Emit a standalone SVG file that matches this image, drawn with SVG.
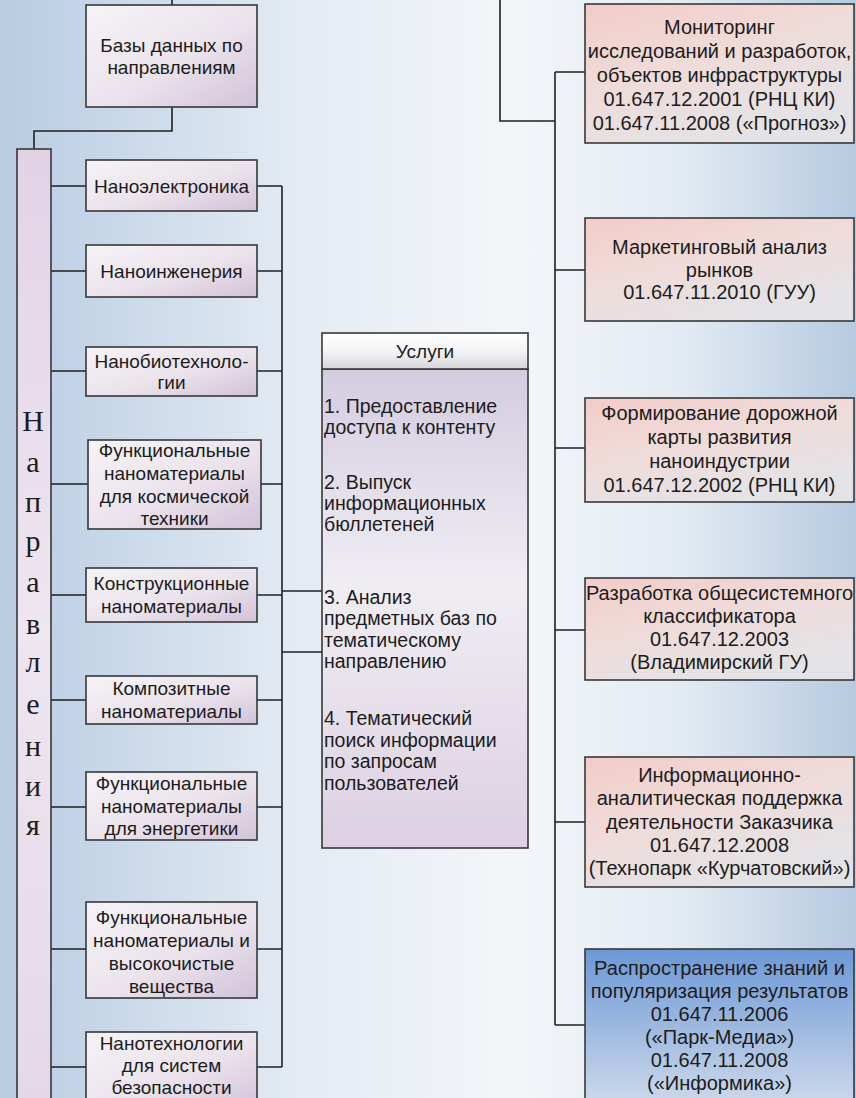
<svg xmlns="http://www.w3.org/2000/svg" width="856" height="1098" viewBox="0 0 856 1098">
<defs>
<linearGradient id="bg" x1="0" y1="0" x2="1" y2="0">
<stop offset="0" stop-color="#b8cce2"/>
<stop offset="0.35" stop-color="#e4ebf4"/>
<stop offset="0.6" stop-color="#f3f6f9"/>
<stop offset="0.8" stop-color="#e2eaf3"/>
<stop offset="1" stop-color="#b6cae0"/>
</linearGradient>
<linearGradient id="lav" x1="0" y1="0" x2="1" y2="1">
<stop offset="0" stop-color="#f6f3f6"/>
<stop offset="0.55" stop-color="#ebe3ec"/>
<stop offset="1" stop-color="#d2c2d8"/>
</linearGradient>
<linearGradient id="tall" x1="0" y1="0" x2="0" y2="1">
<stop offset="0" stop-color="#e2d2e6"/>
<stop offset="0.5" stop-color="#eee6f0"/>
<stop offset="1" stop-color="#e4d8e8"/>
</linearGradient>
<linearGradient id="pink" x1="0" y1="0" x2="0.6" y2="1">
<stop offset="0" stop-color="#f3ccc8"/>
<stop offset="0.5" stop-color="#efdcda"/>
<stop offset="1" stop-color="#e3e3e7"/>
</linearGradient>
<linearGradient id="blue" x1="0" y1="0" x2="0" y2="1">
<stop offset="0" stop-color="#6c98d6"/>
<stop offset="0.6" stop-color="#a9c0e2"/>
<stop offset="1" stop-color="#cfdbec"/>
</linearGradient>
<linearGradient id="hdr" x1="0" y1="0" x2="0" y2="1">
<stop offset="0" stop-color="#ffffff"/>
<stop offset="0.5" stop-color="#f4f4f6"/>
<stop offset="1" stop-color="#d6d6da"/>
</linearGradient>
<linearGradient id="svc" x1="0" y1="0" x2="0" y2="1">
<stop offset="0" stop-color="#d4cce0"/>
<stop offset="0.45" stop-color="#f0edf3"/>
<stop offset="1" stop-color="#dcd0e2"/>
</linearGradient>
</defs>
<style>
.box{stroke:#383838;stroke-width:1.6}
.l{fill:url(#lav)}
.p{fill:url(#pink)}
.t{font-family:"Liberation Sans",Arial,sans-serif;font-size:19px;fill:#1c1c1c;text-anchor:middle}
.r{font-family:"Liberation Sans",Arial,sans-serif;font-size:20px;fill:#1c1c1c;text-anchor:middle}
.s{font-family:"Liberation Sans",Arial,sans-serif;font-size:19.5px;fill:#1c1c1c}
.v{font-family:"Liberation Serif","Times New Roman",serif;font-size:30px;fill:#1c1c1c;text-anchor:middle}
.c{fill:none;stroke:#202020;stroke-width:1.6}
</style>
<rect x="0" y="0" width="856" height="1098" fill="url(#bg)"/>

<g id="connectors">
<path class="c" d="M172 0V5"/>
<path class="c" d="M172 107V131H34V149"/>
<path class="c" d="M500 0V121H555"/>
<path class="c" d="M555 72V1025"/>
<path class="c" d="M555 72H585M555 270H585M555 448H585M555 630H585M555 822H585M555 1025H585"/>
<path class="c" d="M51 186H86M51 271H86M51 371H86M51 484H88M51 595H86M51 700H86M51 807H86M51 949H86M51 1067H86"/>
<path class="c" d="M257 186H282M257 271H282M257 371H282M261 484H282M257 595H282M257 700H282M257 807H282M257 949H282M257 1067H282"/>
<path class="c" d="M282 186V1067"/>
<path class="c" d="M282 591H322M282 652H322"/>
</g>

<g id="bazy">
<rect class="box l" x="86" y="5" width="171" height="102"/>
<text class="t" x="171.5" y="52">Базы данных по</text>
<text class="t" x="171.5" y="74">направлениям</text>
</g>

<g id="napravleniya">
<rect class="box" x="17" y="149" width="34" height="960" fill="url(#tall)"/>
<text class="v" x="33" y="431">Н</text>
<text class="v" x="33" y="472">а</text>
<text class="v" x="33" y="512">п</text>
<text class="v" x="33" y="551">р</text>
<text class="v" x="33" y="592">а</text>
<text class="v" x="33" y="634">в</text>
<text class="v" x="33" y="672">л</text>
<text class="v" x="33" y="714">е</text>
<text class="v" x="33" y="756">н</text>
<text class="v" x="33" y="796">и</text>
<text class="v" x="33" y="835">я</text>
</g>

<g id="nanoelektronika">
<rect class="box l" x="86" y="160" width="171" height="51"/>
<text class="t" x="171.5" y="193">Наноэлектроника</text>
</g>

<g id="nanoinzheneriya">
<rect class="box l" x="86" y="245" width="171" height="52"/>
<text class="t" x="171.5" y="278">Наноинженерия</text>
</g>

<g id="nanobio">
<rect class="box l" x="86" y="347" width="171" height="49"/>
<text class="t" x="171.5" y="368">Нанобиотехноло-</text>
<text class="t" x="171.5" y="389">гии</text>
</g>

<g id="kosmos">
<rect class="box l" x="88" y="440" width="173" height="89"/>
<text class="t" x="174.5" y="457">Функциональные</text>
<text class="t" x="174.5" y="480">наноматериалы</text>
<text class="t" x="174.5" y="503">для космической</text>
<text class="t" x="174.5" y="525">техники</text>
</g>

<g id="konstr">
<rect class="box l" x="86" y="568" width="171" height="54"/>
<text class="t" x="171.5" y="590">Конструкционные</text>
<text class="t" x="171.5" y="613">наноматериалы</text>
</g>

<g id="kompozit">
<rect class="box l" x="86" y="676" width="171" height="48"/>
<text class="t" x="171.5" y="695">Композитные</text>
<text class="t" x="171.5" y="718">наноматериалы</text>
</g>

<g id="energetika">
<rect class="box l" x="86" y="772" width="171" height="68"/>
<text class="t" x="171.5" y="790">Функциональные</text>
<text class="t" x="171.5" y="813">наноматериалы</text>
<text class="t" x="171.5" y="835">для энергетики</text>
</g>

<g id="vysokochistye">
<rect class="box l" x="86" y="902" width="171" height="96"/>
<text class="t" x="171.5" y="924">Функциональные</text>
<text class="t" x="171.5" y="947">наноматериалы и</text>
<text class="t" x="171.5" y="970">высокочистые</text>
<text class="t" x="171.5" y="993">вещества</text>
</g>

<g id="bezopasnost">
<rect class="box l" x="86" y="1032" width="171" height="80"/>
<text class="t" x="171.5" y="1050">Нанотехнологии</text>
<text class="t" x="171.5" y="1072">для систем</text>
<text class="t" x="171.5" y="1094">безопасности</text>
</g>

<g id="uslugi">
<rect class="box" x="322" y="369" width="206" height="479" fill="url(#svc)"/>
<rect class="box" x="322" y="333" width="206" height="36" fill="url(#hdr)"/>
<text class="t" x="425" y="358">Услуги</text>
<text class="s" x="324" y="413">1. Предоставление</text>
<text class="s" x="324" y="434">доступа к контенту</text>
<text class="s" x="324" y="489">2. Выпуск</text>
<text class="s" x="324" y="510">информационных</text>
<text class="s" x="324" y="531">бюллетеней</text>
<text class="s" x="324" y="604">3. Анализ</text>
<text class="s" x="324" y="625">предметных баз по</text>
<text class="s" x="324" y="647">тематическому</text>
<text class="s" x="324" y="668">направлению</text>
<text class="s" x="324" y="725">4. Тематический</text>
<text class="s" x="324" y="747">поиск информации</text>
<text class="s" x="324" y="768">по запросам</text>
<text class="s" x="324" y="790">пользователей</text>
</g>

<g id="monitoring">
<rect class="box p" x="585" y="4" width="269" height="139"/>
<text class="r" x="719.5" y="34">Мониторинг</text>
<text class="r" x="719.5" y="58">исследований и разработок,</text>
<text class="r" x="719.5" y="82">объектов инфраструктуры</text>
<text class="r" x="719.5" y="106">01.647.12.2001 (РНЦ КИ)</text>
<text class="r" x="719.5" y="130">01.647.11.2008 («Прогноз»)</text>
</g>

<g id="marketing">
<rect class="box p" x="585" y="218" width="269" height="103"/>
<text class="r" x="719.5" y="254">Маркетинговый анализ</text>
<text class="r" x="719.5" y="277">рынков</text>
<text class="r" x="719.5" y="299">01.647.11.2010 (ГУУ)</text>
</g>

<g id="dorozhnaya">
<rect class="box p" x="585" y="398" width="269" height="104"/>
<text class="r" x="719.5" y="420">Формирование дорожной</text>
<text class="r" x="719.5" y="444">карты развития</text>
<text class="r" x="719.5" y="468">наноиндустрии</text>
<text class="r" x="719.5" y="492">01.647.12.2002 (РНЦ КИ)</text>
</g>

<g id="klassifikator">
<rect class="box p" x="585" y="578" width="269" height="102"/>
<text class="r" x="719.5" y="600">Разработка общесистемного</text>
<text class="r" x="719.5" y="623">классификатора</text>
<text class="r" x="719.5" y="646">01.647.12.2003</text>
<text class="r" x="719.5" y="669">(Владимирский ГУ)</text>
</g>

<g id="podderzhka">
<rect class="box p" x="585" y="757" width="269" height="130"/>
<text class="r" x="719.5" y="782">Информационно-</text>
<text class="r" x="719.5" y="805">аналитическая поддержка</text>
<text class="r" x="719.5" y="829">деятельности Заказчика</text>
<text class="r" x="719.5" y="852">01.647.12.2008</text>
<text class="r" x="719.5" y="875">(Технопарк «Курчатовский»)</text>
</g>

<g id="rasprostranenie">
<rect class="box" x="585" y="949" width="269" height="160" fill="url(#blue)"/>
<text class="r" x="719.5" y="975">Распространение знаний и</text>
<text class="r" x="719.5" y="998">популяризация результатов</text>
<text class="r" x="719.5" y="1021">01.647.11.2006</text>
<text class="r" x="719.5" y="1044">(«Парк-Медиа»)</text>
<text class="r" x="719.5" y="1067">01.647.11.2008</text>
<text class="r" x="719.5" y="1090">(«Информика»)</text>
</g>
</svg>
